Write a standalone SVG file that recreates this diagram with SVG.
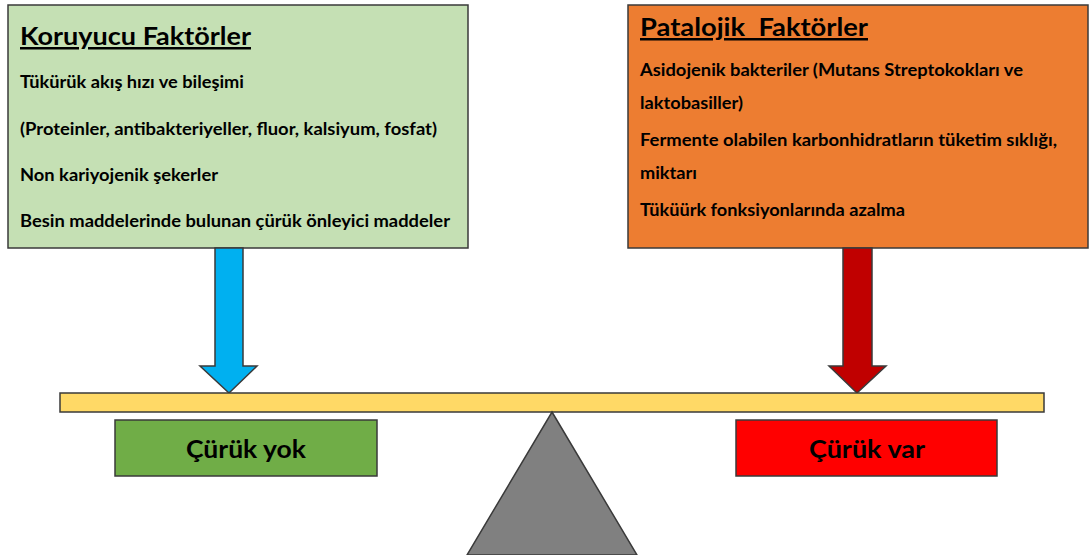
<svg xmlns="http://www.w3.org/2000/svg" width="1089" height="555" viewBox="0 0 1089 555">
<style>
.box{stroke:#3a3a3a;stroke-width:1.5}
.t{font-family:Lato,"Open Sans","Liberation Sans",sans-serif;font-weight:bold;fill:#000}
.title{font-size:25px;text-decoration:underline}
.body{font-size:16.5px}
.lbl{font-size:24px}
</style>
<rect width="1089" height="555" fill="#fff"/>
<g id="koruyucu">
<rect class="box" x="8" y="5" width="460" height="243" fill="#C5E0B4"/>
<text class="t title" x="20" y="45" textLength="231" lengthAdjust="spacingAndGlyphs">Koruyucu Faktörler</text>
<text class="t body" x="20" y="88" textLength="224" lengthAdjust="spacingAndGlyphs">Tükürük akış hızı ve bileşimi</text>
<text class="t body" x="20" y="135" textLength="417" lengthAdjust="spacingAndGlyphs">(Proteinler, antibakteriyeller, fluor, kalsiyum, fosfat)</text>
<text class="t body" x="20" y="181" textLength="198" lengthAdjust="spacingAndGlyphs">Non kariyojenik şekerler</text>
<text class="t body" x="20" y="227" textLength="430" lengthAdjust="spacingAndGlyphs">Besin maddelerinde bulunan çürük önleyici maddeler</text>
</g>
<g id="patalojik">
<rect class="box" x="628" y="5" width="460" height="243" fill="#ED7D31"/>
<text class="t title" x="640" y="36" textLength="228" lengthAdjust="spacingAndGlyphs">Patalojik&#160; Faktörler</text>
<text class="t body" x="640" y="76" textLength="383" lengthAdjust="spacingAndGlyphs">Asidojenik bakteriler (Mutans Streptokokları ve</text>
<text class="t body" x="640" y="109" textLength="103" lengthAdjust="spacingAndGlyphs">laktobasiller)</text>
<text class="t body" x="640" y="146" textLength="417" lengthAdjust="spacingAndGlyphs">Fermente olabilen karbonhidratların tüketim sıklığı,</text>
<text class="t body" x="640" y="179" textLength="57" lengthAdjust="spacingAndGlyphs">miktarı</text>
<text class="t body" x="640" y="216" textLength="265" lengthAdjust="spacingAndGlyphs">Tüküürk fonksiyonlarında azalma</text>
</g>
<g id="connectors">
<path class="box" d="M215,248 H243 V366 H257 L229,393 L200,366 H215 Z" fill="#00B0F0"/>
<path class="box" d="M843,248 H872 V366 H886 L857,393 L829,366 H843 Z" fill="#C00000"/>
</g>
<g id="beam">
<rect class="box" x="60" y="393" width="984" height="19" fill="#FFD966"/>
</g>
<g id="fulcrum">
<polygon class="box" points="552,412 637,555 467,555" fill="#808080"/>
</g>
<g id="curuk-yok">
<rect class="box" x="115" y="420" width="262" height="56" fill="#70AD47"/>
<text class="t lbl" x="246" y="458" text-anchor="middle" textLength="120" lengthAdjust="spacingAndGlyphs">Çürük yok</text>
</g>
<g id="curuk-var">
<rect class="box" x="736" y="420" width="261" height="56" fill="#FF0000"/>
<text class="t lbl" x="867" y="458" text-anchor="middle" textLength="116" lengthAdjust="spacingAndGlyphs">Çürük var</text>
</g>
</svg>
